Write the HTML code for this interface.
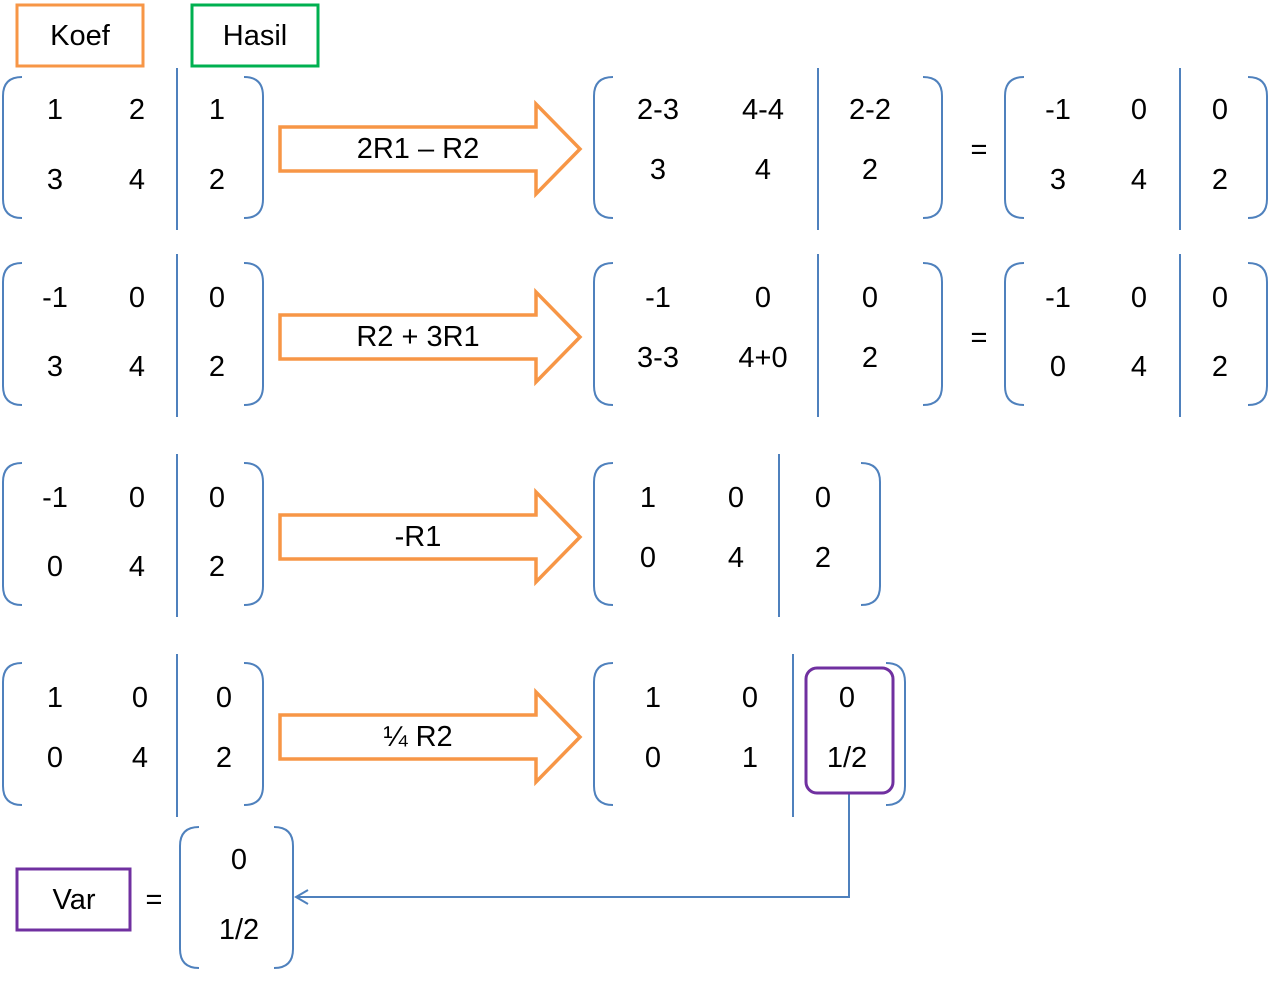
<!DOCTYPE html>
<html><head><meta charset="utf-8"><style>
html,body{margin:0;padding:0;background:#fff;}
svg{display:block;}
text{font-family:"Liberation Sans",sans-serif;font-size:29px;fill:#000;text-anchor:middle;dominant-baseline:central;}
.br{fill:none;stroke:#4f81bd;stroke-width:2;}
.sep{stroke:#4f81bd;stroke-width:2;}
.arr{fill:#fff;stroke:#f79646;stroke-width:3.5;}
</style></head><body>
<svg width="1273" height="981" viewBox="0 0 1273 981">
<rect x="17" y="5" width="126" height="61" fill="none" stroke="#f79646" stroke-width="3"/>
<text x="80" y="36">Koef</text>
<rect x="192" y="5" width="126" height="61" fill="none" stroke="#00b050" stroke-width="3"/>
<text x="255" y="36">Hasil</text>
<g id="g"></g>
<path d="M849 793 V897 H296 M308 890 L296 897 L308 904" fill="none" stroke="#4f81bd" stroke-width="2"/>
<rect x="806" y="668" width="87" height="125" rx="11" fill="none" stroke="#7030a0" stroke-width="3"/>
<rect x="17" y="869" width="113" height="61" fill="none" stroke="#7030a0" stroke-width="3"/>
<text x="74" y="900">Var</text>
<text x="154" y="900">=</text>
</svg>
<script>
const NS='http://www.w3.org/2000/svg';
const g=document.getElementById('g');
function el(t,a){const e=document.createElementNS(NS,t);for(const k in a)e.setAttribute(k,a[k]);g.appendChild(e);return e;}
function lb(x,y1,y2){return `M${x+19} ${y1} Q${x} ${y1} ${x} ${y1+19} V${y2-19} Q${x} ${y2} ${x+19} ${y2}`;}
function rb(x,y1,y2){return `M${x-19} ${y1} Q${x} ${y1} ${x} ${y1+19} V${y2-19} Q${x} ${y2} ${x-19} ${y2}`;}
function mat(l,r,sep,y1,y2,cols,rows,vals){
  const a=el('path',{d:lb(l,y1,y2),class:'br'});
  
  
  const b=el('path',{d:rb(r,y1,y2),class:'br'});
  
  
  if(sep){const s=el('line',{x1:sep,x2:sep,y1:y1-9,y2:y2+12,class:'sep'});
  
  }
  vals.forEach((row,i)=>row.forEach((v,j)=>{const t=el('text',{x:cols[j],y:rows[i]});t.textContent=v;
  
  }));
}
function arrow(cy,label){
  const p=el('path',{d:`M280 ${cy-22} H536 V${cy-45} L580 ${cy} L536 ${cy+45} V${cy+22} H280 Z`,class:'arr'});
  
  
  const t=el('text',{x:418,y:cy});t.textContent=label;
  
  
}
function eq(y){const t=el('text',{x:979,y:y});t.textContent='=';

}
// row 1
mat(3,263,177,77,218,[55,137,217],[110,180],[['1','2','1'],['3','4','2']]);
arrow(149,'2R1 – R2');
mat(594,942,818,77,218,[658,763,870],[110,170],[['2-3','4-4','2-2'],['3','4','2']]);
eq(150);
mat(1005,1267,1180,77,218,[1058,1139,1220],[110,180],[['-1','0','0'],['3','4','2']]);
// row 2
mat(3,263,177,263,405,[55,137,217],[298,367],[['-1','0','0'],['3','4','2']]);
arrow(337,'R2 + 3R1');
mat(594,942,818,263,405,[658,763,870],[298,358],[['-1','0','0'],['3-3','4+0','2']]);
eq(338);
mat(1005,1267,1180,263,405,[1058,1139,1220],[298,367],[['-1','0','0'],['0','4','2']]);
// row 3
mat(3,263,177,463,605,[55,137,217],[498,567],[['-1','0','0'],['0','4','2']]);
arrow(537,'-R1');
mat(594,880,779,463,605,[648,736,823],[498,558],[['1','0','0'],['0','4','2']]);
// row 4
mat(3,263,177,663,805,[55,140,224],[698,758],[['1','0','0'],['0','4','2']]);
arrow(737,'¼ R2');
mat(594,905,793,663,805,[653,750,847],[698,758],[['1','0','0'],['0','1','1/2']]);
// var
mat(180,293,null,827,968,[239],[860,930],[['0'],['1/2']]);
</script>
</body></html>
